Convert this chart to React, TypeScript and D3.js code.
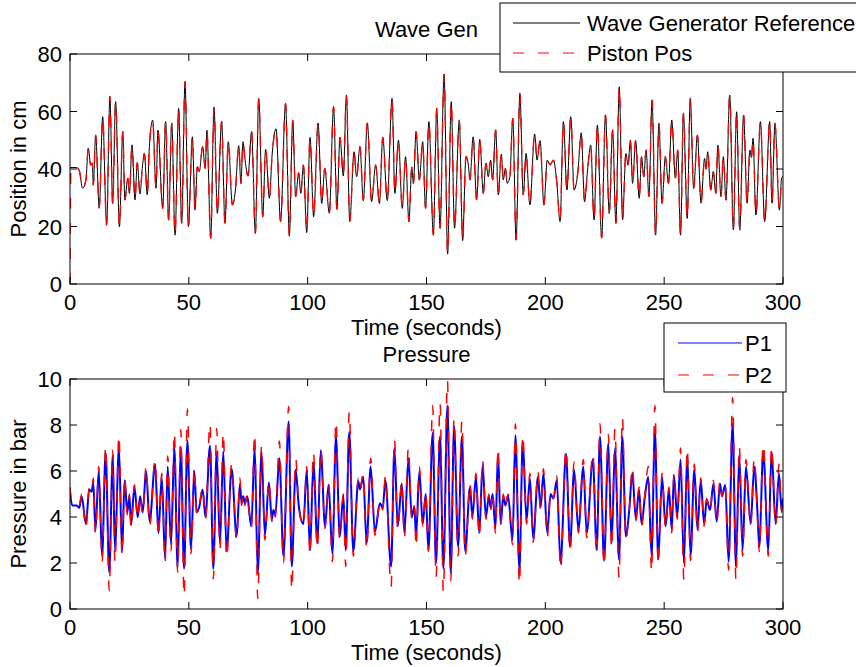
import React from "react";
import * as d3 from "d3";

// ---------- DATA ----------
const xTicks = [0, 50, 100, 150, 200, 250, 300];
const posTicks = [0, 20, 40, 60, 80];
const presTicks = [0, 2, 4, 6, 8, 10];

// Wave generator reference: [time s, position cm]
const waveRef: [number, number][] = [
  [0, 40.5], [2.8, 40.5], [3.9, 39.5], [5.3, 33.3], [6.7, 36.2], [7.7, 47.2], [8.7, 41.4], [9.4, 42], [9.8, 34.4],
  [10.8, 51.8], [12.3, 26.4], [13.75, 58.2], [15.4, 20.5], [16.8, 65.2], [17.95, 28.0], [19.2, 63.4], [20.8, 19.9],
  [22.2, 53.0], [23.1, 29.2], [24.3, 36.8], [25.0, 31.5], [26.1, 48.4], [27.35, 29.2], [28.3, 42.2], [29.45, 31.3],
  [30.4, 40.2], [31.3, 45.4], [32.5, 31.0], [33.4, 47.8], [34.8, 57.0], [36.2, 33.3], [37.0, 53.5], [39.0, 26.3],
  [40.25, 56.5], [41.5, 22.2], [42.8, 55.9], [44.2, 17.0], [45.7, 61.1], [47.0, 21.1], [48.4, 70.4], [49.8, 20.0],
  [51.5, 51.2], [52.6, 25.7], [53.6, 40.8], [54.4, 39.1], [55.8, 47.8], [56.9, 40.2], [57.6, 53.5], [59.2, 15.9],
  [60.6, 61.5], [62.0, 24.6], [63.8, 56.5], [65.2, 21.1], [66.6, 49.5], [68.3, 27.5], [69.6, 32.7], [71.0, 48.1],
  [71.9, 35.0], [72.8, 49.5], [73.5, 44.3], [74.9, 37.6], [76.4, 53.0], [78.0, 17.6], [79.4, 64.6], [81.1, 23.4],
  [82.3, 46.8], [83.9, 29.8], [85.0, 44.5], [86.7, 54.0], [88.6, 21.7], [90.7, 62.8], [92.3, 16.7], [93.7, 57.0],
  [94.95, 30.4], [96.2, 38.7], [97.1, 31.5], [98.2, 41.4], [99.6, 17.9], [101.0, 51.0], [102.5, 23.4], [104.4, 56.0],
  [105.9, 28.0], [107.2, 40.2], [109.1, 24.6], [110.9, 61.7], [112.3, 26.0], [113.6, 51.0], [115.0, 37.6], [116.3, 65.7],
  [117.7, 21.7], [119.5, 46.0], [120.6, 37.3], [122.0, 47.8], [123.4, 29.0], [125.1, 56.0], [126.9, 28.6], [128.6, 41.4],
  [130.2, 28.0], [131.6, 51.0], [133.5, 29.0], [135.5, 64.6], [136.7, 31.5], [138.2, 50.0], [139.8, 26.3], [141.2, 44.3],
  [142.6, 21.7], [143.8, 40.6], [144.5, 35.0], [145.6, 53.0], [147.0, 36.2], [148.4, 49.5], [149.6, 26.3], [151.0, 56.5],
  [152.9, 17.0], [154.3, 61.1], [155.7, 19.4], [157.4, 73.0], [158.9, 10.4], [160.4, 63.4], [161.8, 19.4], [163.8, 57.0],
  [165.2, 15.1], [166.6, 44.3], [167.6, 41.4], [168.3, 36.2], [169.6, 51.2], [171.1, 29.2], [172.4, 50.3], [173.9, 31.5],
  [175.0, 42.0], [176.0, 37.3], [177.0, 43.1], [177.8, 36.2], [179.1, 53.6], [180.2, 31.0], [181.5, 45.2], [182.3, 36.2],
  [183.2, 40.2], [184.0, 35.0], [185.1, 37.5], [186.3, 57.6], [187.7, 15.3], [189.3, 66.3], [190.7, 31.0], [191.9, 45.4],
  [193.5, 27.5], [195.5, 52.2], [196.5, 43.1], [197.8, 49.9], [199.4, 27.5], [200.8, 43.1], [202.0, 41.4], [203.4, 43.1],
  [204.8, 35.6], [206.2, 21.7], [207.6, 56.5], [209.1, 32.7], [210.7, 58.2], [212.1, 32.7], [213.7, 39.0], [215.1, 52.6],
  [216.5, 28.6], [217.7, 39.0], [219.1, 48.3], [220.5, 22.3], [221.9, 55.3], [223.7, 16.0], [225.3, 58.8], [226.9, 24.6],
  [228.3, 53.6], [229.7, 21.1], [231.1, 68.6], [232.5, 22.3], [233.9, 45.4], [234.8, 41.4], [235.8, 50.0], [236.7, 35.0],
  [238.0, 49.9], [239.5, 29.8], [240.5, 44.3], [241.4, 37.3], [242.4, 46.6], [243.6, 30.4], [244.9, 64.0], [246.4, 17.0],
  [247.8, 55.9], [249.1, 28.1], [250.5, 44.3], [251.8, 35.0], [253.2, 57.0], [254.7, 36.8], [255.7, 46.6], [256.9, 17.0],
  [258.1, 59.4], [259.7, 22.8], [261.0, 64.6], [262.4, 33.3], [264.0, 51.8], [265.5, 28.1], [267.0, 43.7], [267.6, 40.0],
  [268.3, 46.0], [269.6, 32.7], [270.7, 39.1], [271.7, 31.5], [272.6, 48.3], [273.9, 30.4], [274.9, 44.3], [276.0, 29.2],
  [277.6, 65.7], [279.1, 18.8], [280.5, 59.9], [281.8, 18.8], [283.4, 58.8], [284.9, 28.1], [286.1, 46.6], [286.7, 44.0],
  [287.4, 50.7], [288.6, 24.0], [290.5, 56.5], [292.3, 21.7], [294.4, 56.5], [295.4, 28.1], [296.6, 55.9], [298.5, 25.7],
  [299.4, 36.8], [300, 37.5],
];

// Piston position: starts at 0 and then tracks the reference
const pistonStart: [number, number][] = [[0, 0], [0.4, 41]];

// Pressure: time, P1 (bar), P2 (bar)
const presT = [
  0, 1.0, 2.8, 3.9, 4.9, 6.7, 8.1, 9.1, 9.8, 10.7, 12.1, 13.5, 15.0, 16.5, 18.0, 18.9, 20.6, 21.9, 23.0, 24.1, 25.0, 25.7,
  27.1, 28.5, 29.5, 30.6, 32.0, 33.5, 35.8, 37.2, 38.6, 40.0, 41.1, 42.5, 43.9, 45.3, 46.6, 48.0, 49.4, 50.9, 52.3, 53.3,
  54.4, 55.8, 57.0, 58.9, 60.3, 61.7, 63.1, 64.5, 65.9, 68.0, 70.1, 71.5, 72.2, 72.9, 73.6, 74.6, 75.5, 76.3, 77.7, 79.0,
  80.6, 82.0, 83.7, 84.9, 85.6, 86.4, 88.1, 89.8, 92.0, 93.3, 94.95, 96.3, 98.2, 99.6, 101.0, 102.4, 104.1, 105.5, 107.3,
  108.8, 110.4, 111.9, 113.5, 115.0, 116.0, 117.5, 119.2, 121.3, 122.0, 123.4, 124.8, 126.5, 128.3, 130.4, 131.6, 132.7,
  135.1, 136.5, 137.9, 139.6, 140.7, 142.4, 143.8, 144.9, 145.6, 147.0, 148.4, 149.7, 150.8, 152.6, 154.0, 155.7, 157.1,
  158.8, 160.2, 161.6, 163.3, 164.9, 166.3, 168.3, 169.3, 170.8, 172.2, 173.6, 175.0, 176.2, 177.0, 177.8, 179.0, 180.1,
  181.2, 182.3, 183.2, 184.3, 186.2, 187.4, 189.1, 190.5, 192.1, 193.5, 194.9, 196.9, 198.0, 199.2, 200.8, 202.2, 203.4,
  204.8, 206.4, 208.7, 210.4, 212.1, 213.9, 216.0, 217.4, 220.0, 221.6, 223.0, 224.7, 226.5, 227.9, 229.3, 231.0, 232.4,
  233.9, 235.3, 236.6, 238.1, 239.4, 240.5, 241.9, 243.3, 244.7, 246.1, 247.5, 249.1, 250.6, 252.0, 253.2, 254.1, 255.5,
  256.9, 258.3, 259.7, 261.1, 262.7, 264.0, 265.4, 266.8, 267.9, 269.3, 270.7, 272.1, 273.5, 274.3, 275.7, 277.1, 278.8,
  280.2, 281.6, 283.0, 284.4, 286.4, 287.9, 289.2, 290.0, 291.7, 293.8, 295.2, 296.9, 298.3, 299.4, 300,
];
const p1 = [
  5.0, 4.5, 4.5, 4.4, 4.9, 3.7, 5.2, 5.1, 5.5, 3.4, 6.0, 2.3, 6.8, 1.6, 6.7, 2.6, 7.0, 2.5, 5.6, 4.2, 4.9, 3.65,
  5.3, 4.0, 4.9, 4.2, 6.0, 3.8, 6.3, 3.3, 5.75, 2.2, 6.2, 2.8, 7.0, 1.8, 7.05, 1.75, 7.3, 2.6, 6.0, 4.2,
  4.45, 5.2, 4.0, 7.1, 1.75, 6.8, 2.85, 6.85, 2.5, 6.1, 3.15, 5.45, 4.6, 4.9, 4.6, 4.9, 4.15, 3.6, 7.05, 1.55,
  6.85, 3.2, 5.5, 3.9, 4.3, 4.1, 6.55, 2.3, 8.15, 1.85, 6.05, 4.45, 3.7, 6.05, 2.55, 6.35, 2.85, 6.9, 3.6,
  5.4, 2.4, 7.5, 3.15, 4.95, 2.55, 7.7, 2.5, 5.55, 5.2, 5.75, 2.85, 6.2, 3.35, 4.6, 4.4, 5.6,
  1.85, 7.0, 3.6, 5.45, 3.3, 6.55, 4.0, 4.45, 3.15, 6.0, 3.7, 5.0, 2.55, 7.65, 2.0, 7.5, 1.75,
  8.85, 1.55, 7.95, 2.7, 7.5, 2.5, 5.3, 4.0, 5.75, 3.3, 6.25, 4.0, 4.9, 4.4, 5.0, 3.5, 6.75,
  3.7, 4.9, 4.5, 4.95, 3.0, 7.55, 1.7, 7.3, 3.85, 5.7, 3.05, 5.75, 4.4, 5.9, 3.3, 5.0, 4.8,
  5.6, 2.0, 6.75, 2.7, 6.05, 3.45, 6.2, 3.3, 6.5, 2.55, 7.5, 2.1, 7.2, 2.85, 7.0, 2.15, 7.5,
  3.15, 4.3, 5.9, 3.9, 5.2, 3.7, 4.9, 5.75, 2.3, 7.8, 2.15, 5.75, 3.6, 5.2, 3.45, 5.8, 4.0,
  6.5, 2.0, 6.7, 2.3, 6.1, 3.45, 5.6, 3.7, 4.75, 4.3, 5.45, 3.8, 5.45, 4.9, 5.4, 2.05, 8.05,
  1.85, 6.7, 2.55, 6.2, 3.7, 6.2, 4.3, 2.7, 6.85, 2.55, 6.85, 3.7, 5.9, 4.3, 4.8,
];
const p2 = [
  5.3, 4.6, 4.6, 4.5, 5.0, 3.5, 5.3, 5.1, 5.7, 3.3, 6.2, 2.05, 7.1, 0.8, 6.9, 2.0, 7.6, 2.3, 5.8, 4.1, 5.0, 3.5,
  5.4, 3.9, 5.0, 4.1, 6.2, 3.6, 6.5, 3.1, 5.9, 2.0, 6.65, 2.5, 7.7, 1.6, 7.8, 0.55, 8.7, 2.4, 6.2, 4.1,
  4.5, 5.3, 3.9, 8.1, 1.3, 7.85, 2.6, 7.7, 2.2, 6.3, 3.0, 5.7, 4.5, 5.0, 4.5, 5.0, 4.1, 3.5, 7.65, 0.45,
  7.1, 3.0, 5.6, 3.8, 4.3, 4.0, 7.3, 2.0, 8.8, 0.8, 6.55, 4.4, 3.6, 6.2, 2.3, 6.85, 2.6, 7.0, 3.5,
  5.5, 2.05, 8.2, 3.0, 5.0, 1.85, 8.6, 2.3, 5.7, 5.2, 5.9, 2.6, 6.55, 3.2, 4.7, 4.3, 5.8,
  0.95, 7.4, 3.4, 5.6, 3.1, 7.05, 3.9, 4.5, 2.65, 6.2, 3.6, 5.1, 2.5, 8.85, 1.35, 8.95, 0.75,
  9.95, 1.2, 8.3, 2.3, 8.2, 2.3, 5.5, 3.9, 5.9, 3.1, 6.5, 3.9, 5.0, 4.3, 5.1, 3.3, 7.0,
  3.6, 5.0, 4.4, 5.0, 2.8, 8.05, 1.05, 7.6, 3.7, 5.9, 2.9, 6.0, 4.3, 6.1, 3.1, 5.1, 4.8,
  5.8, 1.7, 7.0, 2.5, 6.4, 3.3, 6.5, 3.1, 6.8, 2.4, 8.05, 1.85, 7.6, 2.6, 7.85, 1.35, 8.35,
  3.0, 4.3, 6.2, 3.8, 5.3, 3.6, 5.0, 6.2, 1.6, 8.85, 1.9, 5.9, 3.5, 5.3, 3.3, 5.9, 3.9,
  7.0, 1.25, 7.0, 2.1, 6.3, 3.3, 5.7, 3.6, 4.8, 4.2, 5.6, 3.7, 5.6, 4.9, 5.5, 1.7, 9.2,
  1.25, 7.1, 2.3, 6.5, 3.6, 6.6, 4.2, 2.5, 7.2, 2.3, 7.1, 3.6, 6.3, 4.2, 4.9,
];

// ---------- LAYOUT ----------
const W = 856;
const H = 667;
const L = 70, R = 783;
const topBox = { top: 54, bottom: 284 };
const botBox = { top: 379, bottom: 609 };
const FONT = "'Liberation Sans', Arial, Helvetica, sans-serif";
const FS = 22;
const TICK = 7;
const DASH = "11,14";

const x = d3.scaleLinear().domain([0, 300]).range([L, R]);
const yPos = d3.scaleLinear().domain([0, 80]).range([topBox.bottom, topBox.top]);
const yPres = d3.scaleLinear().domain([0, 10]).range([botBox.bottom, botBox.top]);

function Axes({ y, yt, box, title, ylabel }: any) {
  const cy = (box.top + box.bottom) / 2;
  return (
    <g>
      <rect x={L} y={box.top} width={R - L} height={box.bottom - box.top} fill="none" stroke="#000" strokeWidth={1} />
      {xTicks.map((t) => (
        <g key={"x" + t}>
          <line x1={x(t)} x2={x(t)} y1={box.bottom} y2={box.bottom - TICK} stroke="#000" />
          <line x1={x(t)} x2={x(t)} y1={box.top} y2={box.top + TICK} stroke="#000" />
          <text x={x(t)} y={box.bottom + 26} textAnchor="middle" fontSize={FS} fontFamily={FONT}>{t}</text>
        </g>
      ))}
      {yt.map((v: number) => (
        <g key={"y" + v}>
          <line x1={L} x2={L + TICK} y1={y(v)} y2={y(v)} stroke="#000" />
          <line x1={R} x2={R - TICK} y1={y(v)} y2={y(v)} stroke="#000" />
          <text x={L - 8} y={y(v) + 8} textAnchor="end" fontSize={FS} fontFamily={FONT}>{v}</text>
        </g>
      ))}
      <text x={(L + R) / 2} y={box.bottom + 51} textAnchor="middle" fontSize={FS} fontFamily={FONT}>Time (seconds)</text>
      <text x={(L + R) / 2} y={box.top - 17} textAnchor="middle" fontSize={FS} fontFamily={FONT}>{title}</text>
      <text transform={`translate(26,${cy}) rotate(-90)`} textAnchor="middle" fontSize={FS} fontFamily={FONT}>{ylabel}</text>
    </g>
  );
}

export default function App() {
  const lineTop = d3.line<[number, number]>().x((d) => x(d[0])).y((d) => yPos(d[1])).curve(d3.curveMonotoneX);
  const pistonData: [number, number][] = [...pistonStart, ...waveRef.filter((d) => d[0] > 0.4)];
  const p1Data: [number, number][] = presT.map((t, i) => [t, p1[i]]);
  const p2Data: [number, number][] = presT.map((t, i) => [t, p2[i]]);
  const lineBot = d3.line<[number, number]>().x((d) => x(d[0])).y((d) => yPres(d[1])).curve(d3.curveMonotoneX);

  return (
    <svg width={W} height={H} style={{ position: "absolute", left: 0, top: 0, background: "#fff" }}>
      <rect x={0} y={0} width={W} height={H} fill="#fff" />
      <defs>
        <clipPath id="cTop"><rect x={L} y={topBox.top} width={R - L} height={topBox.bottom - topBox.top} /></clipPath>
        <clipPath id="cBot"><rect x={L} y={botBox.top} width={R - L} height={botBox.bottom - botBox.top} /></clipPath>
      </defs>

      {/* Top plot */}
      <g clipPath="url(#cTop)">
        <path d={lineTop(waveRef) || ""} fill="none" stroke="#000" strokeWidth={1} />
        <path d={lineTop(pistonData) || ""} fill="none" stroke="#ff0000" strokeWidth={1.4} strokeDasharray={DASH} />
      </g>
      <Axes y={yPos} yt={posTicks} box={topBox} title="Wave Gen" ylabel="Position in cm" />

      {/* Bottom plot */}
      <g clipPath="url(#cBot)">
        <path d={lineBot(p1Data) || ""} fill="none" stroke="#0000ff" strokeWidth={2} />
        <path d={lineBot(p2Data) || ""} fill="none" stroke="#ff0000" strokeWidth={1.5} strokeDasharray={DASH} />
      </g>
      <Axes y={yPres} yt={presTicks} box={botBox} title="Pressure" ylabel="Pressure in bar" />

      {/* Top legend */}
      <g>
        <rect x={500} y={3} width={400} height={69} fill="#fff" stroke="#000" strokeWidth={1} />
        <line x1={513} x2={580} y1={23} y2={23} stroke="#000" strokeWidth={1} />
        <text x={587} y={31} fontSize={FS} fontFamily={FONT}>Wave Generator Reference</text>
        <line x1={513} x2={580} y1={53} y2={53} stroke="#ff0000" strokeWidth={1} strokeDasharray={DASH} />
        <text x={587} y={61} fontSize={FS} fontFamily={FONT}>Piston Pos</text>
      </g>

      {/* Bottom legend */}
      <g>
        <rect x={664} y={323} width={122} height={69} fill="#fff" stroke="#000" strokeWidth={1} />
        <line x1={678} x2={742} y1={343} y2={343} stroke="#0000ff" strokeWidth={1} />
        <text x={745} y={351} fontSize={FS} fontFamily={FONT}>P1</text>
        <line x1={678} x2={742} y1={375} y2={375} stroke="#ff0000" strokeWidth={1} strokeDasharray={DASH} />
        <text x={745} y={383} fontSize={FS} fontFamily={FONT}>P2</text>
      </g>
    </svg>
  );
}
